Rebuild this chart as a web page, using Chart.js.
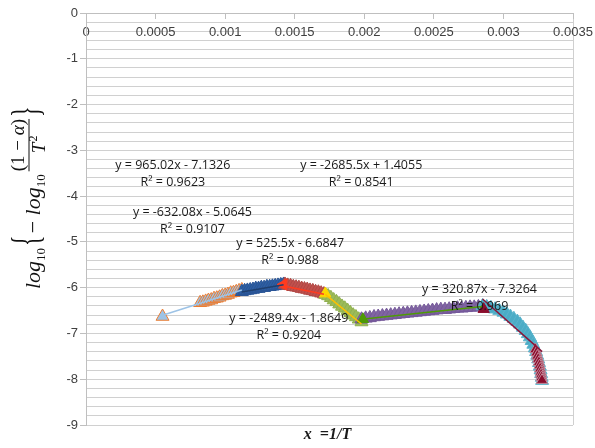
<!DOCTYPE html>
<html>
<head>
<meta charset="utf-8">
<script src="https://cdn.jsdelivr.net/npm/chart.js@4.4.1/dist/chart.umd.min.js"></script>
<style>
  html, body { margin: 0; padding: 0; background: #fff; }
</style>
</head>
<body>
<canvas id="chart" width="595" height="448"></canvas>
<script>
// tick labels
const xTickValues = [0, 0.0005, 0.001, 0.0015, 0.002, 0.0025, 0.003, 0.0035];
const xTickLabels = ['0', '0.0005', '0.001', '0.0015', '0.002', '0.0025', '0.003', '0.0035'];
const yTickLabels = ['0', '-1', '-2', '-3', '-4', '-5', '-6', '-7', '-8', '-9'];

// series (x = 1/T, y = log10{-log10((1-a)/T^2)})
const seg1X = [0.00055, 0.00082, 0.00084, 0.00086, 0.00088, 0.00090, 0.00092, 0.00094, 0.00096, 0.00098, 0.00100, 0.00102, 0.00104, 0.00106, 0.00108, 0.00110, 0.00112];
const seg1Y = [-6.63, -6.33, -6.32, -6.30, -6.28, -6.27, -6.24, -6.23, -6.21, -6.18, -6.17, -6.15, -6.12, -6.11, -6.09, -6.07, -6.05];

const seg2X = [0.00112, 0.00114, 0.00116, 0.00118, 0.00120, 0.00122, 0.00124, 0.00126, 0.00128, 0.00130, 0.00132, 0.00134, 0.00136, 0.00138, 0.00140, 0.00142];
const seg2Y = [-6.09, -6.07, -6.06, -6.05, -6.04, -6.02, -6.02, -6.00, -6.00, -5.98, -5.98, -5.97, -5.96, -5.95, -5.94, -5.93];

const seg3X = [0.00143, 0.00145, 0.00147, 0.00149, 0.00151, 0.00153, 0.00155, 0.00157, 0.00159, 0.00161, 0.00163, 0.00165, 0.00167, 0.00169, 0.00171];
const seg3Y = [-5.93, -5.95, -5.96, -5.98, -5.99, -6.00, -6.02, -6.03, -6.04, -6.06, -6.07, -6.09, -6.10, -6.12, -6.14];

const seg4X = [0.00172, 0.00174, 0.00176, 0.00178, 0.00180, 0.00182, 0.00184, 0.00186, 0.00188, 0.00190, 0.00192, 0.00194, 0.00196, 0.00198];
const seg4Y = [-6.15, -6.18, -6.22, -6.27, -6.31, -6.36, -6.41, -6.45, -6.50, -6.55, -6.60, -6.64, -6.69, -6.75];

const seg5X = [0.00198, 0.00201, 0.00204, 0.00207, 0.00210, 0.00213, 0.00216, 0.00219, 0.00222, 0.00225,
               0.00228, 0.00231, 0.00234, 0.00237, 0.00240, 0.00243, 0.00246, 0.00249, 0.00252, 0.00255,
               0.00258, 0.00261, 0.00264, 0.00267, 0.00270, 0.00273, 0.00276, 0.00279, 0.00282, 0.00285];
const seg5Y = [-6.69, -6.67, -6.66, -6.64, -6.63, -6.62, -6.61, -6.60, -6.59, -6.58,
               -6.57, -6.56, -6.55, -6.54, -6.53, -6.52, -6.51, -6.50, -6.49, -6.48,
               -6.48, -6.47, -6.46, -6.45, -6.45, -6.44, -6.43, -6.43, -6.42, -6.42];

const seg6X = [0.002850, 0.002880, 0.002910, 0.002940, 0.002970, 0.003000, 0.003025, 0.003050, 0.003075, 0.003100,
               0.003120, 0.003140, 0.003160, 0.003175, 0.003190, 0.003203, 0.003215, 0.003226, 0.003235, 0.003243,
               0.003250, 0.003256, 0.003262, 0.003267, 0.003271, 0.003275, 0.003278];
const seg6Y = [-6.40, -6.42, -6.44, -6.47, -6.50, -6.54, -6.58, -6.63, -6.68, -6.74,
               -6.80, -6.87, -6.94, -7.01, -7.08, -7.16, -7.24, -7.32, -7.40, -7.48,
               -7.56, -7.64, -7.72, -7.80, -7.88, -7.96, -8.03];

// single coloured markers where each segment starts, and the dark red tail
const accentX = [0.00142, 0.00172, 0.00199, 0.002858];
const accentY = [-5.93, -6.13, -6.69, -6.47];
const tailX = [0.003230, 0.003238, 0.003244, 0.003250, 0.003255, 0.003260, 0.003264, 0.003268, 0.003271, 0.003274, 0.003277];
const tailY = [-7.35, -7.42, -7.49, -7.56, -7.63, -7.70, -7.77, -7.84, -7.90, -7.96, -8.02];

// linear trendlines as printed on the chart
const trendSlope = [965.02, 525.5, -632.08, -2489.4, 320.87, -2685.5];
const trendIntercept = [-7.1326, -6.6847, -5.0645, -1.8649, -7.3264, 1.4055];
const trendR2 = ['0.9623', '0.988', '0.9107', '0.9204', '0.969', '0.8541'];

const xTitle = 'x  =1/T';

// where each equation box sits (data units, centre of first line)
const eqPos = [[0.000624, -3.33], [0.001467, -5.03], [0.000765, -4.36], [0.001458, -6.68], [0.002828, -6.03], [0.001978, -3.33]];

const segX = [seg1X, seg2X, seg3X, seg4X, seg5X, seg6X];
const segY = [seg1Y, seg2Y, seg3Y, seg4Y, seg5Y, seg6Y];
const segFill = ['#9dc3e6', '#2e5fa3', '#c0504d', '#9bbb59', '#8064a2', '#4bacc6'];
const segBorder = ['#ed7d31', '#2a5596', '#b04845', '#90b050', '#75599a', '#5ab4cc'];
const trendColor = ['#9dc3e6', '#1f3f6e', '#ff3b1f', '#ffc000', '#4e9a06', '#8b1538'];
const accentColor = ['#ff3b1f', '#ffd700', '#4e9a06', '#8b0d2d'];
const accentRot = [-90, 0, 0, 0];

const toPoints = (xs, ys) => xs.map((x, i) => ({ x: x, y: ys[i] }));

const datasets = [];
trendSlope.forEach((m, i) => {
    const lo = Math.min(...segX[i]), hi = Math.max(...segX[i]);
    datasets.push({
        data: [{ x: lo, y: m * lo + trendIntercept[i] }, { x: hi, y: m * hi + trendIntercept[i] }],
        showLine: true, borderColor: trendColor[i], borderWidth: 1.5, pointRadius: 0, order: 1
    });
});
datasets.push({
    data: toPoints(accentX, accentY), pointStyle: 'triangle', pointRadius: 6.5,
    pointRotation: accentRot, backgroundColor: accentColor, borderColor: accentColor, borderWidth: 1, order: 2
});
datasets.push({
    data: toPoints(tailX, tailY), pointStyle: 'triangle', pointRadius: 6.5,
    backgroundColor: '#8b0d2d', borderColor: '#c48a9a', borderWidth: 1, order: 3
});
segX.forEach((xs, i) => {
    datasets.push({
        data: toPoints(xs, segY[i]), pointStyle: 'triangle', pointRadius: 7.5,
        backgroundColor: segFill[i], borderColor: segBorder[i], borderWidth: 1, order: 10 - i
    });
});

function eqText(i) {
    const b = trendIntercept[i];
    return 'y = ' + trendSlope[i] + 'x ' + (b < 0 ? '- ' : '+ ') + Math.abs(b);
}

function drawYTitle(ctx, cx, cy) {
    ctx.save();
    ctx.translate(cx, cy);
    ctx.rotate(-Math.PI / 2);
    ctx.fillStyle = '#111';
    ctx.textAlign = 'left';
    ctx.textBaseline = 'alphabetic';
    const base = 6;
    const italic = 'italic 22px "Liberation Serif"';
    const sub = '13px "Liberation Serif"';
    const plain = '22px "Liberation Serif"';
    let u = -89;
    const put = (t, font, dv) => {
        ctx.font = font;
        ctx.fillText(t, u, base + dv);
        u += ctx.measureText(t).width;
    };
    const brace = (t) => {
        ctx.save();
        ctx.font = '40px "Liberation Serif"';
        const w = ctx.measureText(t).width * 0.55;
        ctx.translate(u, base - 1);
        ctx.scale(0.55, 1);
        ctx.fillText(t, 0, 0);
        ctx.restore();
        u += w;
    };
    put('log', italic, 0);
    put('10', sub, 5);
    u += 2;
    brace('{');
    u += 2;
    put('\u2212 ', plain, 0);
    put('log', italic, 0);
    put('10', sub, 5);
    u += 3;
    // fraction (1 - a) / T^2
    const nf = '19px "Liberation Serif"', nfi = 'italic 19px "Liberation Serif"';
    ctx.font = nf;
    const w1 = ctx.measureText('(1 \u2212 ').width, w3 = ctx.measureText(')').width;
    ctx.font = nfi;
    const w2 = ctx.measureText('\u03b1').width;
    const fw = w1 + w2 + w3;
    const f0 = u;
    ctx.font = nf; ctx.fillText('(1 \u2212 ', u, -10);
    ctx.font = nfi; ctx.fillText('\u03b1', u + w1, -10);
    ctx.font = nf; ctx.fillText(')', u + w1 + w2, -10);
    ctx.fillRect(f0, -5.5, fw, 1);
    ctx.font = nfi;
    const tw = ctx.measureText('T').width;
    ctx.fillText('T', f0 + fw / 2 - 8, 11);
    ctx.font = '12px "Liberation Serif"';
    ctx.fillText('2', f0 + fw / 2 - 8 + tw + 1, 3);
    u = f0 + fw + 2;
    brace('}');
    ctx.restore();
}

const labelPlugin = {
    id: 'labels',
    afterDraw(chart) {
        const ctx = chart.ctx;
        const xs = chart.scales.x, ys = chart.scales.y;
        const area = chart.chartArea;
        ctx.save();
        ctx.fillStyle = '#1a1a1a';
        ctx.font = '12.5px "Open Sans"';
        ctx.textAlign = 'center';
        ctx.textBaseline = 'middle';
        trendSlope.forEach((m, i) => {
            const px = xs.getPixelForValue(eqPos[i][0]);
            const py = ys.getPixelForValue(eqPos[i][1]);
            ctx.fillText(eqText(i), px, py);
            ctx.fillText('R\u00b2 = ' + trendR2[i], px, py + 17);
        });
        ctx.font = 'italic bold 16px "Liberation Serif"';
        ctx.fillText(xTitle, (area.left + area.right) / 2 - 2, area.bottom + 10);
        ctx.restore();
        drawYTitle(ctx, 34, 200);
    }
};

const isWhole = v => Math.abs(v - Math.round(v)) < 1e-6;

new Chart(document.getElementById('chart'), {
    type: 'scatter',
    data: { datasets: datasets },
    options: {
        responsive: false,
        animation: false,
        layout: { padding: { left: 0, right: 22, top: 13, bottom: 23 } },
        plugins: { legend: { display: false }, tooltip: { enabled: false } },
        scales: {
            x: {
                type: 'linear',
                position: { y: 0 },
                min: 0,
                max: 0.0035,
                afterBuildTicks: s => { s.ticks = xTickValues.map(v => ({ value: v })); },
                afterFit: s => { s.paddingLeft = 0; s.paddingRight = 0; },
                ticks: {
                    autoSkip: false, maxRotation: 0, padding: 7,
                    color: '#404040', font: { family: 'Liberation Sans', size: 13 },
                    callback: (v, i) => xTickLabels[i]
                },
                grid: {
                    color: c => (c.tick && c.tick.value >= 0.0035 ? '#d0d0d0' : 'rgba(0,0,0,0)'),
                    tickLength: 5, tickColor: '#bfbfbf'
                },
                border: { color: '#bfbfbf' }
            },
            y: {
                type: 'linear',
                min: -9,
                max: 0,
                afterFit: s => { s.width = 86; },
                ticks: {
                    stepSize: 0.2, autoSkip: false, padding: 2,
                    color: '#404040', font: { family: 'Liberation Sans', size: 13 },
                    callback: v => {
                        const r = String(Math.round(v));
                        return isWhole(v) && yTickLabels.includes(r) ? r : '';
                    }
                },
                grid: {
                    color: '#d0d0d0', tickLength: 6,
                    tickColor: c => (c.tick && isWhole(c.tick.value) ? '#bfbfbf' : 'rgba(0,0,0,0)')
                },
                border: { color: '#bfbfbf' }
            }
        }
    },
    plugins: [labelPlugin]
});
</script>
</body>
</html>
